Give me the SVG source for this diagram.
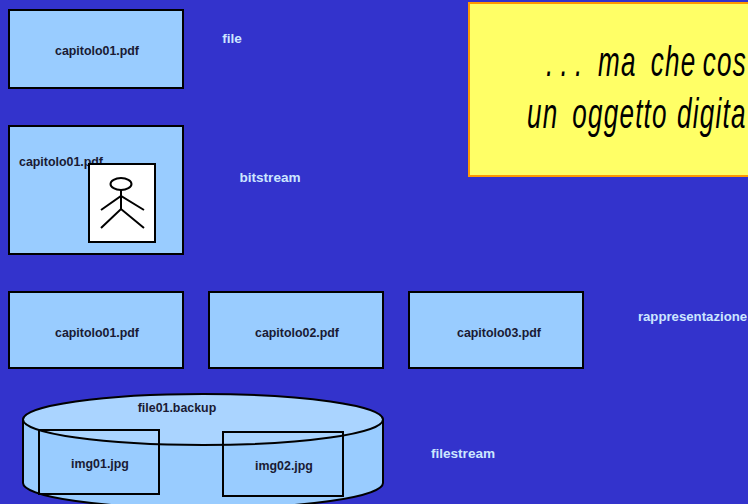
<svg xmlns="http://www.w3.org/2000/svg" width="748" height="504" viewBox="0 0 748 504">
<style>
.b{fill:#99ccff;stroke:#000;stroke-width:2}
.n{fill:none;stroke:#000;stroke-width:2}
text{font-family:"Liberation Sans",Arial,sans-serif;font-weight:bold;font-size:12.4px}
.d{fill:#1a1a33;text-anchor:middle}
.w{fill:#cce6ff;font-size:13.6px;text-anchor:middle}
.c{font-weight:normal;font-style:italic;font-size:42px;fill:#000;letter-spacing:2px}
</style>
<rect width="748" height="504" fill="#3333cc"/>
<g id="node-file"><rect class="b" x="9" y="10" width="174" height="78"/><text class="d" x="97" y="55">capitolo01.pdf</text></g>
<text class="w" x="232" y="43">file</text>
<g id="node-bitstream"><rect class="b" x="9" y="126" width="174" height="128"/><text class="d" x="61" y="166">capitolo01.pdf</text>
<rect x="89" y="164" width="66" height="78" fill="#fff" stroke="#000" stroke-width="2"/>
<ellipse class="n" cx="121" cy="184" rx="10.500" ry="6"/>
<path class="n" d="M121 190V209M101 210L121 196L144 210M101 228L121 209L144 228"/></g>
<text class="w" x="270" y="182">bitstream</text>
<g id="node-cap1"><rect class="b" x="9" y="292" width="174" height="76"/><text class="d" x="97" y="337">capitolo01.pdf</text></g>
<g id="node-cap2"><rect class="b" x="209" y="292" width="174" height="76"/><text class="d" x="297" y="337">capitolo02.pdf</text></g>
<g id="node-cap3"><rect class="b" x="409" y="292" width="174" height="76"/><text class="d" x="499" y="337">capitolo03.pdf</text></g>
<text class="w" x="692.500" y="321" style="font-size:13.200px">rappresentazione</text>
<g id="node-cylinder">
<path class="b" d="M23 419.500V483A180 25.500 0 0 0 383 483V419.500Z"/>
<ellipse cx="203" cy="419.500" rx="180" ry="25.500" fill="#aad4ff" stroke="#000" stroke-width="2"/>
<text class="d" x="177" y="412">file01.backup</text></g>
<g id="node-img1"><rect class="n" x="39" y="430" width="120" height="64"/><text class="d" x="100" y="468">img01.jpg</text></g>
<g id="node-img2"><rect class="n" x="223" y="432" width="120" height="64"/><text class="d" x="284" y="470">img02.jpg</text></g>
<text class="w" x="463" y="458">filestream</text>
<g id="node-callout"><rect x="469" y="3" width="290" height="173" fill="#ffff66" stroke="#ff9900" stroke-width="2"/>
<text class="c" transform="translate(546 76) scale(.62 1)" style="letter-spacing:0">. . .<tspan x="84" style="letter-spacing:2px">ma</tspan><tspan x="169" style="letter-spacing:2px">che</tspan><tspan x="253" style="letter-spacing:2px">cos</tspan></text>
<text class="c" transform="translate(527 128) scale(.62 1)">un<tspan x="73">oggetto</tspan><tspan x="242">digita</tspan></text></g>
</svg>
